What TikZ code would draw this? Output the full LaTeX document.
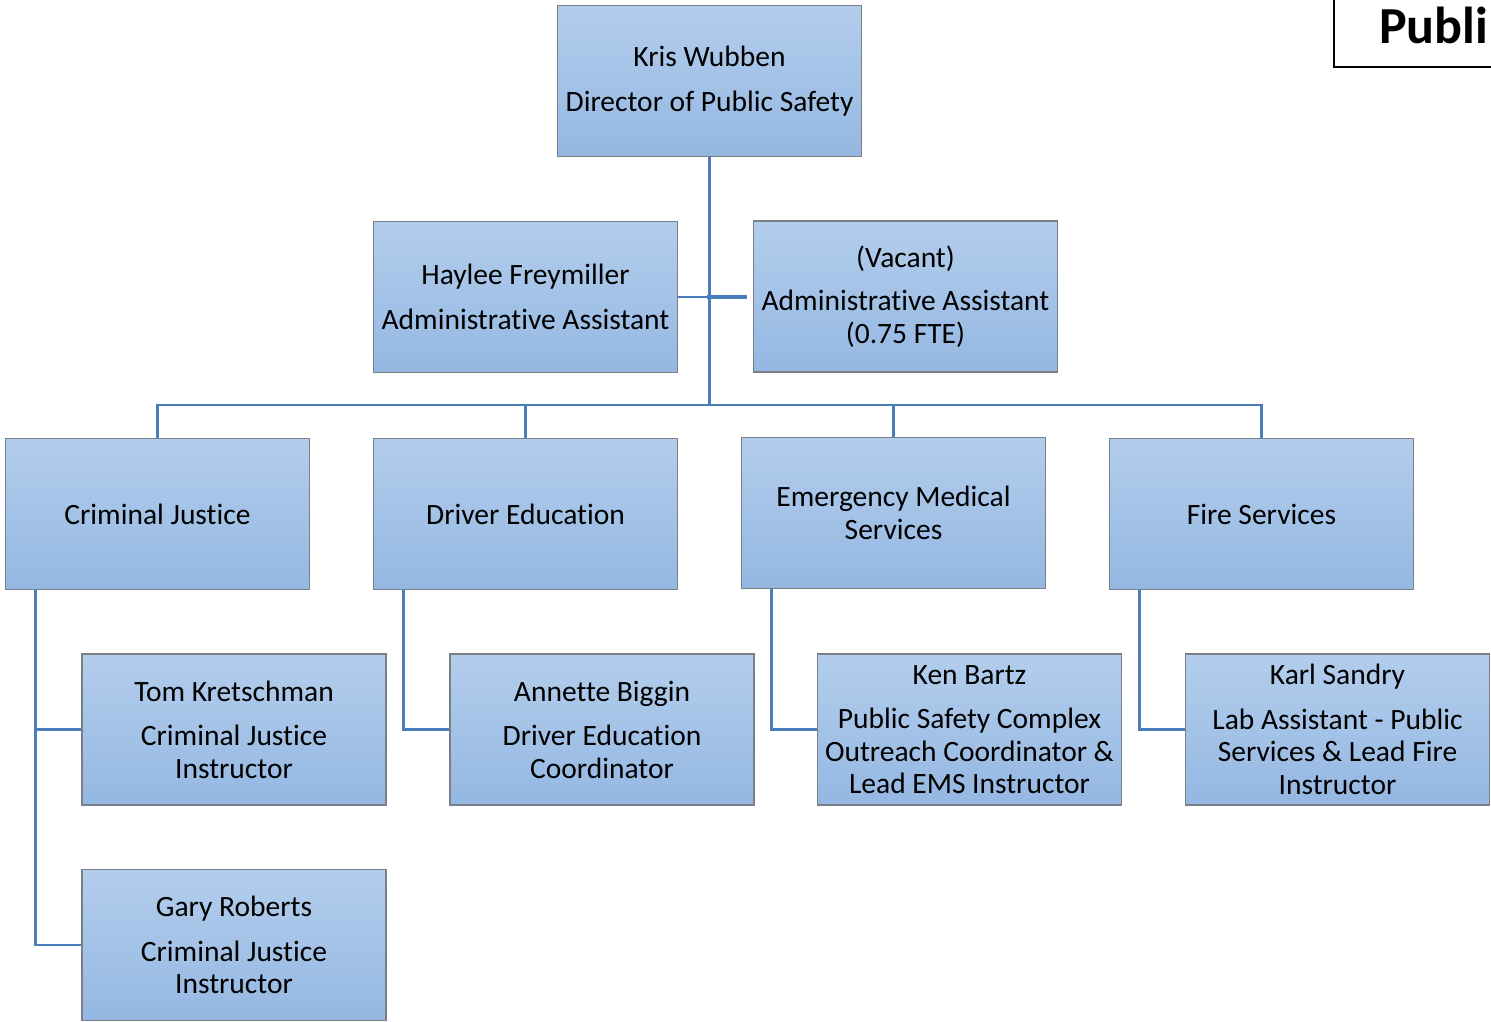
\documentclass[tikz,border=0pt]{standalone}
\usepackage{fontspec}
\setmainfont{Carlito}[Ligatures=NoCommon]
\definecolor{topc}{HTML}{B3CEEC}
\definecolor{botc}{HTML}{94B7E2}
\definecolor{edgec}{HTML}{7A7F87}
\definecolor{linec}{HTML}{4A7EBB}
\begin{document}
\begin{tikzpicture}[x=1pt,y=-1pt,
  orgbox/.style={draw=edgec, line width=1.6pt, top color=topc, bottom color=botc,
    minimum width=304pt, minimum height=151pt, inner sep=0pt, align=center,
    font=\fontsize{29.5}{32.5}\selectfont, text=black},
  conn/.style={draw=linec, line width=2.6pt}]
\useasboundingbox (0,0) rectangle (1491,1021);
% title fragment
\draw[line width=2pt] (1334,0) -- (1334,67) -- (1491,67);
\node[anchor=base west, inner sep=0pt, font=\fontsize{52}{52}\selectfont\bfseries] (ttl) at (1379,43) {Publi};
% boxes
\node[orgbox] (dir) at (709.5,81) {Kris Wubben\\[12pt]Director of Public Safety};
\node[orgbox] (hay) at (525.5,297) {Haylee Freymiller\\[12pt]Administrative Assistant};
\node[orgbox] (vac) at (905.5,296.5) {(Vacant)\\[11pt]Administrative Assistant\\(0.75 FTE)};
\node[orgbox] (cj) at (157.5,514) {Criminal Justice};
\node[orgbox] (de) at (525.5,514) {Driver Education};
\node[orgbox] (ems) at (893.5,513) {Emergency Medical\\Services};
\node[orgbox] (fs) at (1261.5,514) {Fire Services};
\node[orgbox] (tom) at (234,729.5) {Tom Kretschman\\[12pt]Criminal Justice\\Instructor};
\node[orgbox] (ann) at (602,729.5) {Annette Biggin\\[12pt]Driver Education\\Coordinator};
\node[orgbox] (ken) at (969.5,729.5) {Ken Bartz\\[12pt]Public Safety Complex\\Outreach Coordinator \&\\Lead EMS Instructor};
\node[orgbox] (karl) at (1337.5,729.5) {Karl Sandry\\[12pt]Lab Assistant - Public\\Services \& Lead Fire\\Instructor};
\node[orgbox] (gary) at (234,945) {Gary Roberts\\[12pt]Criminal Justice\\Instructor};
% connectors
\coordinate (j) at (709.5,405);
\draw[conn] (dir.south) -- (j);
\draw[conn] (hay.east) -- (hay.east -| dir.south);
\draw[conn, line width=4pt] ([xshift=-46pt]vac.west) -- ([xshift=-6pt]vac.west);
\draw[conn] (cj.north) |- (j) -| (fs.north);
\draw[conn] (de.north) -- (de.north |- j);
\draw[conn] (ems.north) -- (ems.north |- j);
\draw[conn] ([xshift=31pt]cj.south west) |- (gary.west);
\draw[conn] ([xshift=31pt]cj.south west |- tom.west) -- (tom.west);
\draw[conn] ([xshift=31pt]de.south west) |- (ann.west);
\draw[conn] ([xshift=31pt]ems.south west) |- (ken.west);
\draw[conn] ([xshift=31pt]fs.south west) |- (karl.west);
\end{tikzpicture}
\end{document}
